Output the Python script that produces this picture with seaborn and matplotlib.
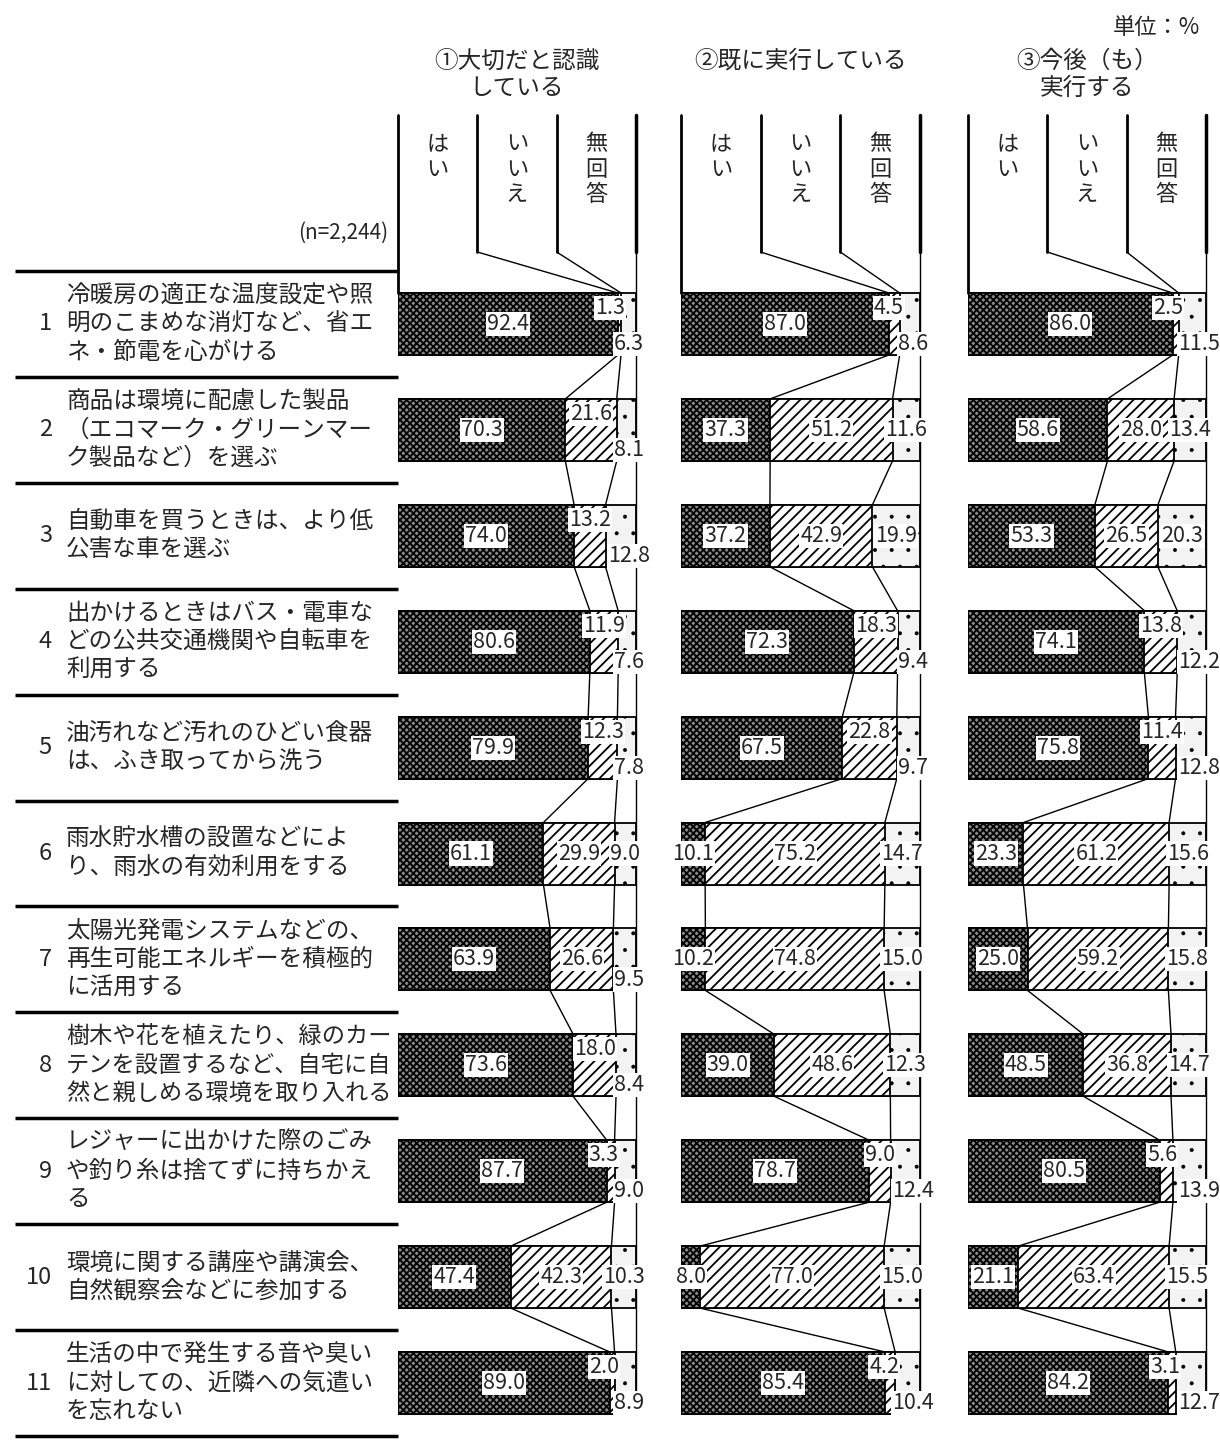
import numpy as np
import pandas as pd
import matplotlib
matplotlib.use("Agg")
import matplotlib.pyplot as plt
import seaborn as sns

# --- data -------------------------------------------------------------
item_no = ["1", "2", "3", "4", "5", "6", "7", "8", "9", "10", "11"]
item_text = [
    "冷暖房の適正な温度設定や照\n明のこまめな消灯など、省エ\nネ・節電を心がける",
    "商品は環境に配慮した製品\n（エコマーク・グリーンマー\nク製品など）を選ぶ",
    "自動車を買うときは、より低\n公害な車を選ぶ",
    "出かけるときはバス・電車な\nどの公共交通機関や自転車を\n利用する",
    "油汚れなど汚れのひどい食器\nは、ふき取ってから洗う",
    "雨水貯水槽の設置などによ\nり、雨水の有効利用をする",
    "太陽光発電システムなどの、\n再生可能エネルギーを積極的\nに活用する",
    "樹木や花を植えたり、緑のカー\nテンを設置するなど、自宅に自\n然と親しめる環境を取り入れる",
    "レジャーに出かけた際のごみ\nや釣り糸は捨てずに持ちかえ\nる",
    "環境に関する講座や講演会、\n自然観察会などに参加する",
    "生活の中で発生する音や臭い\nに対しての、近隣への気遣い\nを忘れない",
]

panel_titles = ["①大切だと認識\nしている", "②既に実行している", "③今後（も）\n実行する"]
col_heads = ["は\nい", "い\nい\nえ", "無\n回\n答"]

yes1 = [92.4, 70.3, 74.0, 80.6, 79.9, 61.1, 63.9, 73.6, 87.7, 47.4, 89.0]
no1 = [1.3, 21.6, 13.2, 11.9, 12.3, 29.9, 26.6, 18.0, 3.3, 42.3, 2.0]
na1 = [6.3, 8.1, 12.8, 7.6, 7.8, 9.0, 9.5, 8.4, 9.0, 10.3, 8.9]

yes2 = [87.0, 37.3, 37.2, 72.3, 67.5, 10.1, 10.2, 39.0, 78.7, 8.0, 85.4]
no2 = [4.5, 51.2, 42.9, 18.3, 22.8, 75.2, 74.8, 48.6, 9.0, 77.0, 4.2]
na2 = [8.6, 11.6, 19.9, 9.4, 9.7, 14.7, 15.0, 12.3, 12.4, 15.0, 10.4]

yes3 = [86.0, 58.6, 53.3, 74.1, 75.8, 23.3, 25.0, 48.5, 80.5, 21.1, 84.2]
no3 = [2.5, 28.0, 26.5, 13.8, 11.4, 61.2, 59.2, 36.8, 5.6, 63.4, 3.1]
na3 = [11.5, 13.4, 20.3, 12.2, 12.8, 15.6, 15.8, 14.7, 13.9, 15.5, 12.7]

# --- layout (pixels of the 1220x1452 canvas) ---------------------------
W, H = 1220, 1452
ROW0, STEP = 324, 105.9          # centre of first row, row pitch
BAR_H = 62 / STEP
panel_x = [(398, 636), (681, 920), (968, 1206)]

sns.set_theme(style="white")
plt.rcParams["font.family"] = ["Noto Sans CJK JP", "DejaVu Sans"]


def row_of(py):
    return (py - ROW0) / STEP


fig = plt.figure(figsize=(W / 100, H / 100), dpi=100)

# background axes in pixel coords for the left-hand labels
ax0 = fig.add_axes([0, 0, 1, 1])
ax0.set_xlim(0, W)
ax0.set_ylim(H, 0)
ax0.axis("off")

ax0.text(1200, 27, "単位：%", ha="right", va="center", fontsize=16)
ax0.text(388, 233, "(n=2,244)", ha="right", va="center", fontsize=15)

for i in range(len(item_no) + 1):
    yy = ROW0 + STEP * (i - 0.5)
    ax0.plot([15, 398], [yy, yy], color="black", lw=2.5, solid_capstyle="butt")

for i, (num, txt) in enumerate(zip(item_no, item_text)):
    yc = ROW0 + STEP * i
    longest = max(len(s) for s in txt.split("\n"))
    fs = min(17, 325 / (longest * 1.389))
    ax0.text(52, yc, num, ha="right", va="center", fontsize=17)
    ax0.text(66, yc, txt, ha="left", va="center", fontsize=fs, linespacing=1.3)

lab = dict(ha="center", va="center", fontsize=15.5,
           bbox=dict(facecolor="white", edgecolor="none", pad=0.8))


def draw_panel(ax, yes, no, na, title):
    df = pd.DataFrame({"item": item_no, "yes": yes, "no": no, "na": na})
    df["c1"] = df["yes"]
    df["c2"] = df["yes"] + df["no"]
    df["c3"] = df["c2"] + df["na"]

    kw = dict(data=df, y="item", order=item_no, orient="h", width=BAR_H,
              saturation=1, edgecolor="black", linewidth=1.3, errorbar=None, ax=ax)
    plt.rcParams["hatch.linewidth"] = 0.4
    sns.barplot(x="c3", color="#f3f3f3", hatch=".", **kw)
    plt.rcParams["hatch.linewidth"] = 1.3
    sns.barplot(x="c2", color="white", hatch="///", **kw)
    sns.barplot(x="c1", color="#8a8a8a", hatch="xxxxx", **kw)

    ax.set_xlim(0, 100)
    ax.set_ylim(row_of(H), row_of(0))
    ax.axis("off")

    top = BAR_H / 2
    y_head = row_of(115)
    y_bend = row_of(252)

    # header box and column captions
    ax.plot([0, 0], [y_head, -top], color="black", lw=2, clip_on=False)
    ax.plot([100, 100], [y_head, y_bend], color="black", lw=2.5, clip_on=False)
    ax.plot([100, 100], [y_bend, len(df) - 1 + top], color="black", lw=1, clip_on=False)
    for xd, cum in zip([100 / 3, 200 / 3], [df["c1"].iloc[0], df["c2"].iloc[0]]):
        ax.plot([xd, xd], [y_head, y_bend], color="black", lw=2, clip_on=False)
        ax.plot([xd, cum], [y_bend, -top], color="black", lw=1, clip_on=False)
    for k, head in enumerate(col_heads):
        ax.text(100 / 6 + k * 100 / 3, row_of(132), head, ha="center", va="top",
                fontsize=16, linespacing=1.15)
    ax.text(50, row_of(50), title, ha="center", va="top", fontsize=17, linespacing=1.2)

    # series lines between consecutive bars
    for i in range(len(df) - 1):
        for col in ["c1", "c2"]:
            ax.plot([df[col].iloc[i], df[col].iloc[i + 1]], [i + top, i + 1 - top],
                    color="black", lw=1, zorder=1)

    # value labels
    for i, r in df.iterrows():
        ax.text(r.yes / 2, i, f"{r.yes:.1f}", **lab)
        stagger = r.no < 25
        na_down = stagger or (r.na < 10 and r.no < 28)
        if stagger:
            ax.text(min(r.yes + r.no / 2, r.c2 - 4.5), i - 0.15, f"{r.no:.1f}", **lab)
        else:
            ax.text(r.yes + r.no / 2, i, f"{r.no:.1f}", **lab)
        if na_down:
            ax.text(97, i + 0.19, f"{r.na:.1f}", **lab)
        else:
            ax.text(r.c2 + r.na / 2, i, f"{r.na:.1f}", **lab)


series = [(yes1, no1, na1), (yes2, no2, na2), (yes3, no3, na3)]
for (x0, x1), (yes, no, na), title in zip(panel_x, series, panel_titles):
    ax = fig.add_axes([x0 / W, 0, (x1 - x0) / W, 1])
    ax.patch.set_alpha(0)
    draw_panel(ax, yes, no, na, title)

fig.savefig("out.png", dpi=100)
